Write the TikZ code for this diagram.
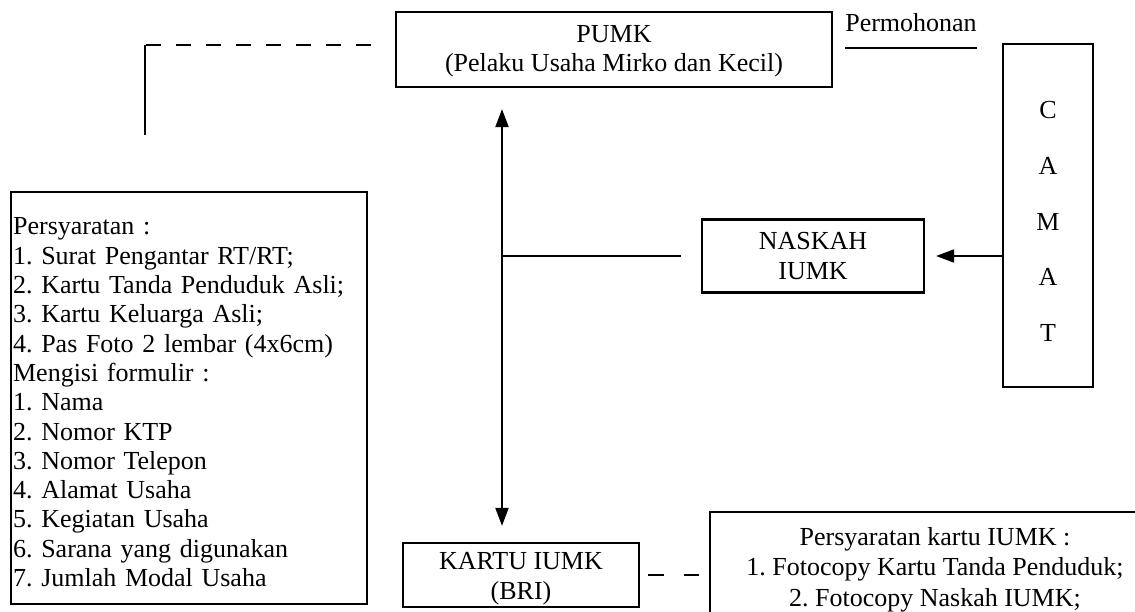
\documentclass[tikz,border=0pt]{standalone}
\usepackage{fontspec}
\setmainfont{Liberation Serif}
\usetikzlibrary{arrows.meta}
\frenchspacing

\tikzset{
  box/.style={draw, line width=2.2pt, align=center, inner sep=0pt},
  link/.style={line width=2pt},
  dashlink/.style={line width=2pt, dash pattern=on 15pt off 15pt},
  tip/.style={-{Triangle[length=18pt,width=13pt]}},
  twotip/.style={{Triangle[length=18pt,width=13pt]}-{Triangle[length=18pt,width=13pt]}},
}
\newcommand{\boxfont}{\fontsize{26}{29.3}\selectfont}
% invisible strut to push the first line down a little
\newcommand{\boxstrut}[1]{\rule{0pt}{#1}}

\begin{document}
\begin{tikzpicture}[x=1pt,y=-1pt,font=\boxfont]
  \useasboundingbox (0,0) rectangle (1135,612);

  % boxes
  \node[box, minimum width=436pt, minimum height=75pt] (pumk) at (614,49.5)
    {\boxstrut{21pt}PUMK\\(Pelaku Usaha Mirko dan Kecil)};
  \node[box, minimum width=90pt, minimum height=343pt,
        font=\fontsize{26}{55.75}\selectfont] (camat) at (1048,215.5)
    {\boxstrut{29.2pt}C\\A\\M\\A\\T};
  \node[box, minimum width=222pt, minimum height=73pt] (naskah) at (813,256)
    {NASKAH\\IUMK};
  \node[box, minimum width=236pt, minimum height=64pt,
        font=\fontsize{26}{30.5}\selectfont] (kartu) at (521,575)
    {\boxstrut{25pt}KARTU IUMK\\(BRI)};
  \node[box, anchor=north west, minimum height=412pt, text width=352pt,
        inner xsep=2pt, align=left] (syarat) at (10,191)
    {\boxstrut{25.6pt}Persyaratan :\\
     1. Surat Pengantar RT/RT;\\
     2. Kartu Tanda Penduduk Asli;\\
     3. Kartu Keluarga Asli;\\
     4. Pas Foto 2 lembar (4x6cm)\\
     Mengisi formulir :\\
     1. Nama\\
     2. Nomor KTP\\
     3. Nomor Telepon\\
     4. Alamat Usaha\\
     5. Kegiatan Usaha\\
     6. Sarana yang digunakan\\
     7. Jumlah Modal Usaha};
  \node[box, anchor=north, minimum width=450pt, inner ysep=15pt,
        font=\fontsize{26}{30.5}\selectfont] (syaratkartu) at (935,511)
    {Persyaratan kartu IUMK :\\
     1. Fotocopy Kartu Tanda Penduduk;\\
     2. Fotocopy Naskah IUMK;};

  % permohonan label with its line
  \node[anchor=base, inner xsep=0pt, inner ysep=16pt] (permohonan) at (911,32) {Permohonan};
  \draw[link] (permohonan.south west) -- (permohonan.south east);

  % helper points
  \coordinate (corner) at (145,45);
  \coordinate (junct) at (502,256);

  % connectors
  \draw[dashlink, shorten <=24pt] (pumk.west |- corner) -- (corner);
  \draw[link, shorten >=56pt] (corner) -- (syarat.north -| corner);
  \draw[link, twotip, shorten <=21pt, shorten >=16pt]
    (pumk.south -| junct) -- (kartu.north -| junct);
  \draw[link, shorten >=20pt] (junct) -- (naskah.west);
  \draw[link, tip, shorten >=11pt] (camat.west |- naskah.east) -- (naskah.east);
  \draw[link, dash pattern=on 16pt off 20pt, shorten <=8pt, shorten >=10pt]
    (kartu.east) -- (kartu.east -| syaratkartu.west);
\end{tikzpicture}
\end{document}
